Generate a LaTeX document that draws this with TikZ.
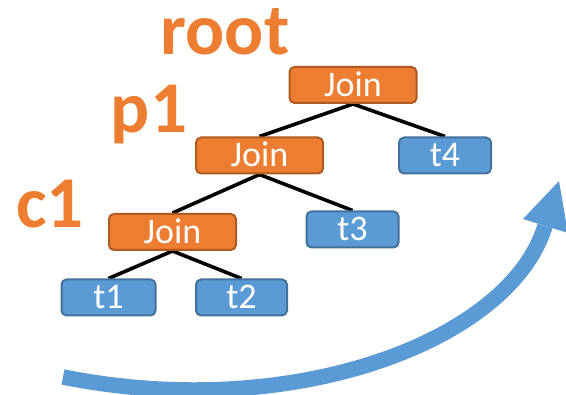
\documentclass[tikz,border=0pt]{standalone}
\usepackage{fontspec}
\setmainfont{Carlito}
\usetikzlibrary{backgrounds}
\definecolor{orf}{HTML}{ED7D31}
\definecolor{ord}{HTML}{AE5A21}
\definecolor{blf}{HTML}{5B9BD5}
\definecolor{bld}{HTML}{41719C}
\tikzset{
 box/.style={rounded corners=5pt, line width=2pt, text=white, font=\fontsize{36}{40}\selectfont, text height=23pt, text depth=0pt, inner sep=0pt, minimum height=36pt},
 joinbox/.style={box, fill=orf, draw=ord, minimum width=127pt},
 leafbox/.style={box, fill=blf, draw=bld, minimum width=92pt},
 lbl/.style={text=orf, font=\bfseries\fontsize{73}{80}\selectfont, inner sep=0pt, anchor=base},
 edgeline/.style={line width=3.6pt, black}
}
\begin{document}
\begin{tikzpicture}[x=1pt,y=-1pt]
\useasboundingbox (0,0) rectangle (566,395);
\node[joinbox] (root) at (353,85) {Join};
\node[joinbox] (p1) at (259.5,155.5) {Join};
\node[joinbox] (c1) at (172.5,232) {Join};
\node[leafbox, minimum width=94pt] (t1) at (108.5,297.5) {t1};
\node[leafbox, minimum width=91pt] (t2) at (241.5,297.5) {t2};
\node[leafbox] (t3) at (352.5,229.5) {t3};
\node[leafbox] (t4) at (445,155.5) {t4};
\node[lbl] (lroot) at (225,55) {root};
\node[lbl] (lp1) at (149,133) {p1};
\node[lbl] (lc1) at (50,228) {c1};
\begin{scope}[on background layer]
\draw[edgeline] (root.south) -- (p1.north);
\draw[edgeline] (root.south) -- (t4.north);
\draw[edgeline] (p1.south) -- (c1.north);
\draw[edgeline] (p1.south) -- (t3.north);
\draw[edgeline] (c1.south) -- (t1.north);
\draw[edgeline] (c1.south) -- (t2.north);
\end{scope}
\coordinate (as) at (63,377);
\coordinate (ae) at (545,226);
\draw[blf, line width=15.5pt] (as) .. controls (293,423) and (510,341) .. (ae);
\fill[blf] (523,219) -- (559,181) -- (568,233) -- cycle;
\end{tikzpicture}
\end{document}
